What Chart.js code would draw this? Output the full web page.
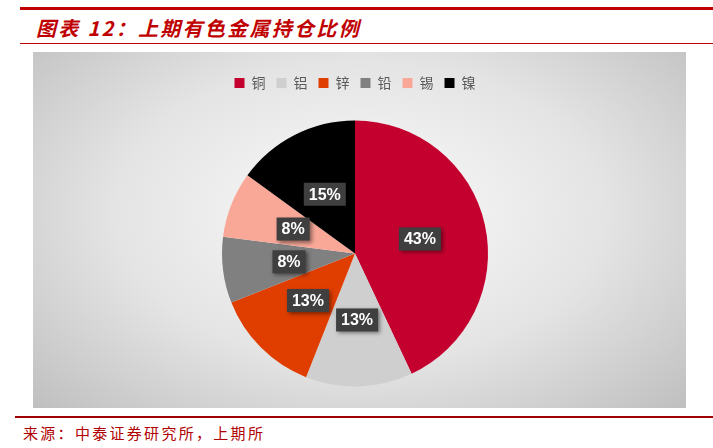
<!DOCTYPE html>
<html>
<head>
<meta charset="utf-8">
<script src="https://cdn.jsdelivr.net/npm/chart.js@4"></script>
<style>
  body { margin: 0; width: 713px; height: 448px; background: #fff; position: relative; overflow: hidden; font-family: "Noto Sans CJK SC", sans-serif; }
  .topline { position: absolute; left: 20px; top: 7px; width: 693px; height: 3px; background: #C00000; }
  .title { position: absolute; left: 36px; top: 13px; font-size: 20px; font-weight: bold; font-style: italic; color: #C00000; letter-spacing: 2.3px; }
  .subline { position: absolute; left: 20px; top: 43px; width: 693px; height: 1px; background: #C00000; }
  .panel { position: absolute; left: 33px; top: 52px; width: 653px; height: 356px;
    background: radial-gradient(ellipse 75% 85% at 50% 45%, #fbfbfb 0%, #e4e4e4 50%, #b9b9b9 100%); }
  .footline { position: absolute; left: 15px; top: 416px; width: 698px; height: 2px; background: #A00000; }
  .source { position: absolute; left: 23px; top: 422px; font-size: 15px; letter-spacing: 2.3px; color: #B00000; }
</style>
</head>
<body>
<div class="topline"></div>
<div class="title">图表 12：上期有色金属持仓比例</div>
<div class="subline"></div>
<div class="panel"><canvas id="pie" width="653" height="356"></canvas></div>
<div class="footline"></div>
<div class="source">来源：中泰证券研究所，上期所</div>
<script>
// metals and their share of open interest (%)
const metals = ['铜', '铝', '锌', '铅', '锡', '镍'];
const shares = [43, 13, 13, 8, 8, 15];
const colors = ['#C4002F', '#CFCFCF', '#E03E00', '#808080', '#F9A898', '#000000'];

// draws the dark boxed percentage labels inside each slice
const boxLabels = {
  id: 'boxLabels',
  afterDatasetsDraw(chart) {
    const ctx = chart.ctx;
    const arcs = chart.getDatasetMeta(0).data;
    ctx.save();
    ctx.font = 'bold 16px "Liberation Sans", Arial, sans-serif';
    ctx.textAlign = 'center';
    ctx.textBaseline = 'middle';
    arcs.forEach((arc, i) => {
      const mid = (arc.startAngle + arc.endAngle) / 2;
      const r = arc.outerRadius * 0.5;
      const x = arc.x + Math.cos(mid) * r;
      const y = arc.y + Math.sin(mid) * r;
      const text = shares[i] + '%';
      const w = ctx.measureText(text).width + 10;
      const h = 23;
      ctx.shadowColor = 'rgba(0,0,0,0.45)';
      ctx.shadowBlur = 4;
      ctx.shadowOffsetX = 2;
      ctx.shadowOffsetY = 2;
      ctx.fillStyle = '#3f3f3f';
      ctx.fillRect(x - w / 2, y - h / 2, w, h);
      ctx.shadowColor = 'transparent';
      ctx.fillStyle = '#ffffff';
      ctx.fillText(text, x, y + 1);
    });
    ctx.restore();
  }
};

new Chart(document.getElementById('pie'), {
  type: 'pie',
  data: {
    labels: metals,
    datasets: [{
      data: shares,
      backgroundColor: colors,
      borderWidth: 0
    }]
  },
  options: {
    responsive: false,
    animation: false,
    radius: 133,
    layout: { padding: { top: 13, bottom: 1, left: 0, right: 9 } },
    plugins: {
      legend: {
        position: 'top',
        labels: {
          boxWidth: 10,
          boxHeight: 10,
          padding: 11,
          color: '#595959',
          font: { size: 14, family: '"Noto Sans CJK SC", sans-serif' }
        }
      },
      tooltip: { enabled: false }
    }
  },
  plugins: [boxLabels]
});
</script>
</body>
</html>
